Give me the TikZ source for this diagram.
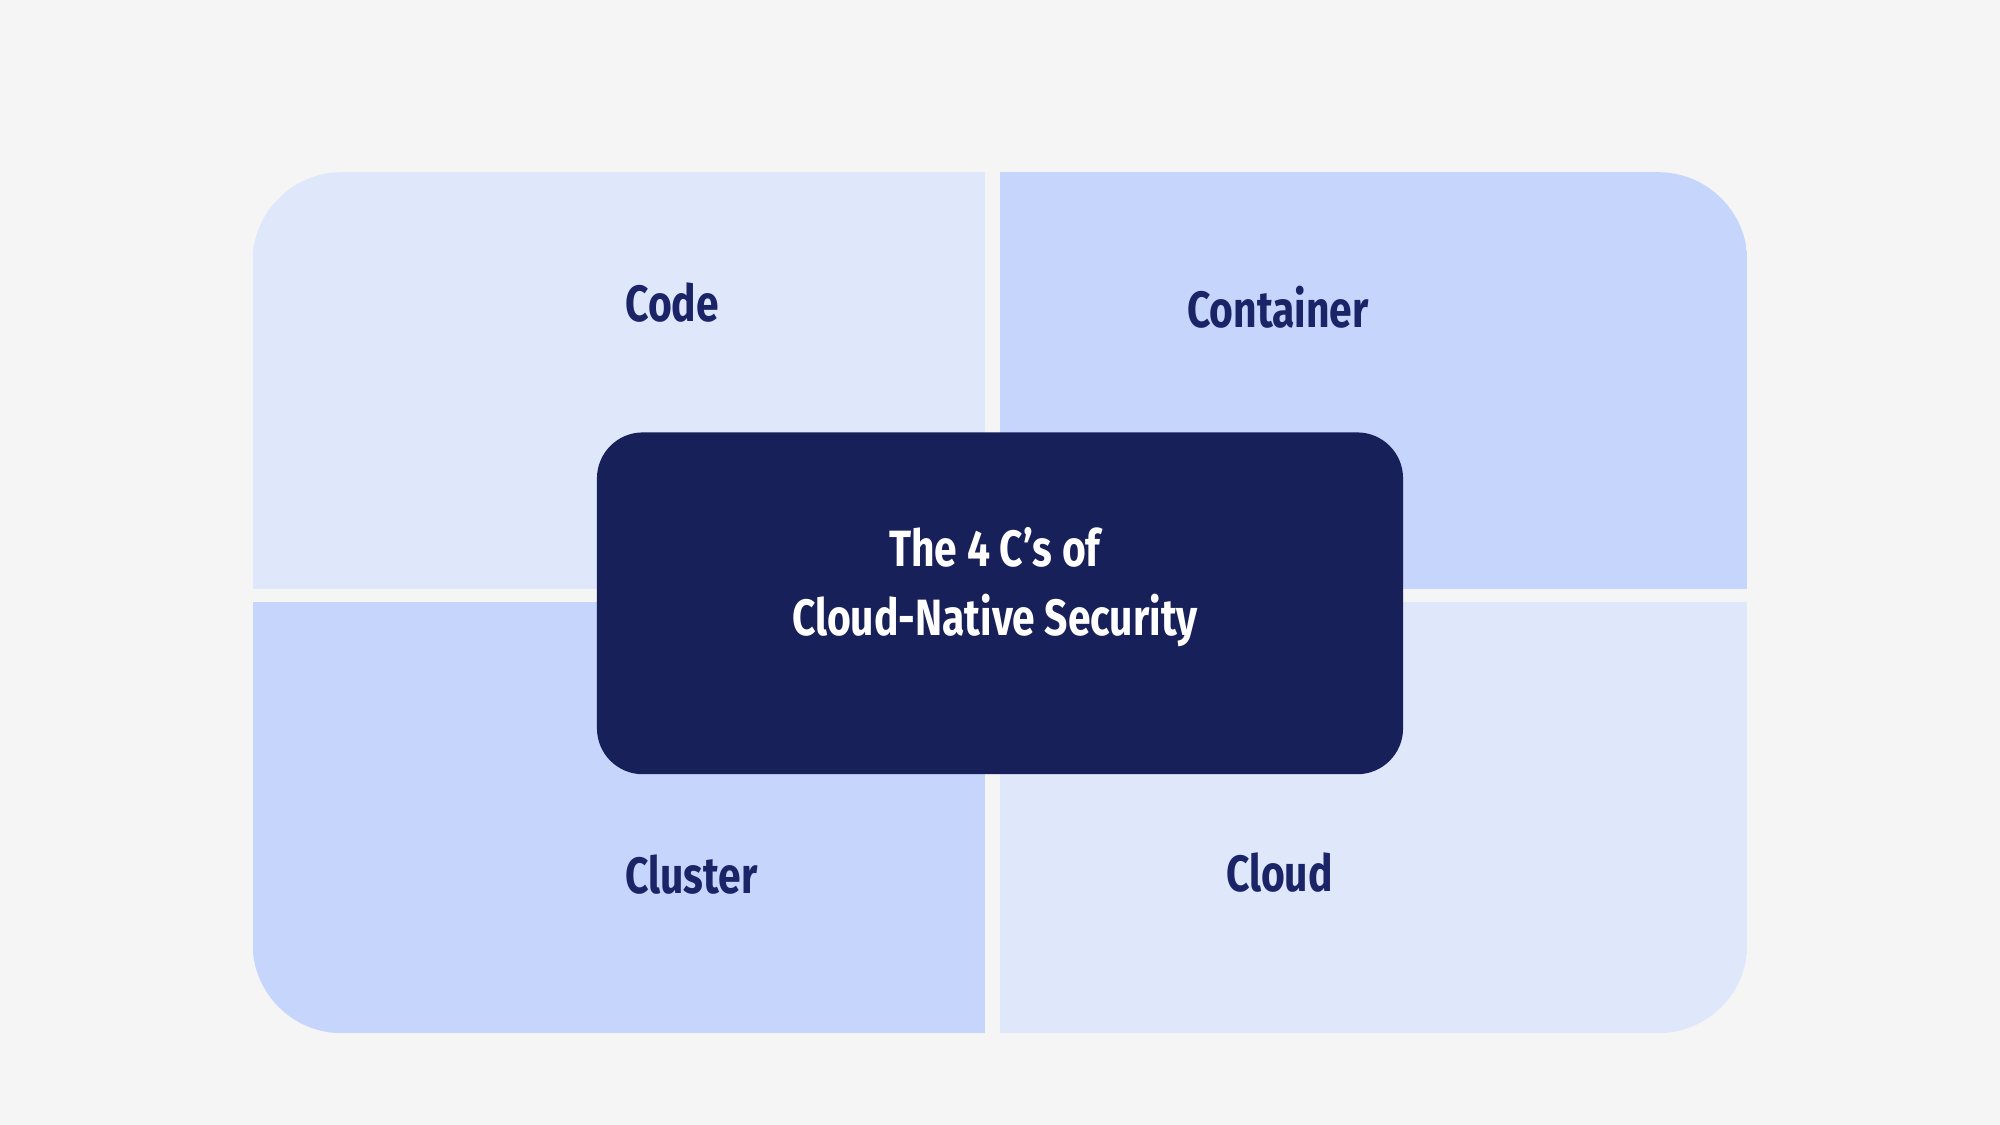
\documentclass[tikz,border=0pt]{standalone}
\usepackage{fontspec}
\newfontfamily\cond[FakeStretch=0.8]{Fira Sans}
\definecolor{bg}{HTML}{F5F5F5}
\definecolor{lite}{HTML}{DFE7FA}
\definecolor{mid}{HTML}{C5D5FC}
\definecolor{navy}{HTML}{172058}
\definecolor{txt}{HTML}{1A2466}
\begin{document}
\begin{tikzpicture}[x=1pt,y=-1pt,
  lbl/.style={font=\cond\bfseries\fontsize{40}{46}\selectfont,text=txt},
  ctr/.style={font=\cond\bfseries\fontsize{40}{54}\selectfont,text=white,align=center}]
\fill[bg] (0,0) rectangle (1568,882);
\useasboundingbox (0,0) rectangle (1568,882);
\begin{scope}
\clip[rounded corners=70] (198,135) rectangle (1370,810);
\fill[lite] (198,135) rectangle (772,462);
\fill[mid] (784,135) rectangle (1370,462);
\fill[mid] (198,472) rectangle (772,810);
\fill[lite] (784,472) rectangle (1370,810);
\end{scope}
\fill[navy,rounded corners=36] (468,339) rectangle (1100,607);
\node[lbl] (code) at (527,237) {Code};
\node[lbl] (container) at (1002,241) {Container};
\node[lbl] (cluster) at (542,686) {Cluster};
\node[lbl] (cloud) at (1003,684) {Cloud};
\node[ctr] (title) at (780,460) {The 4 C’s of\\Cloud-Native Security};
\end{tikzpicture}
\end{document}
